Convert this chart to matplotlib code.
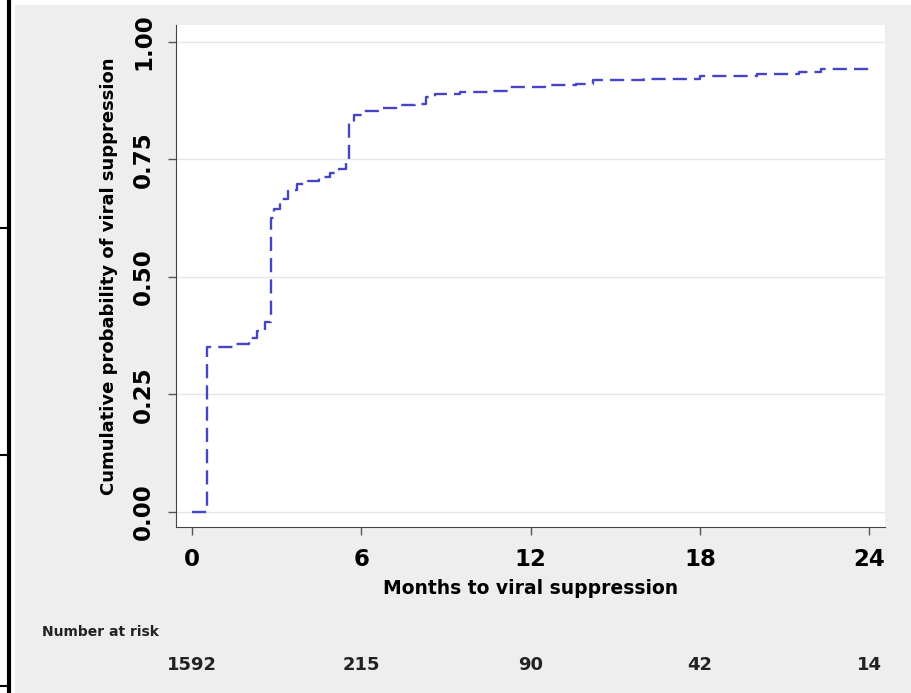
import matplotlib
matplotlib.use("Agg")
import matplotlib.pyplot as plt
from matplotlib.patches import Rectangle
from matplotlib.lines import Line2D
import matplotlib.transforms as mtransforms

plt.rcParams['font.family'] = ['DejaVu Sans']
plt.rcParams['font.weight'] = 'bold'

# Kaplan-Meier style curve (step points)
months = [0, 0.53, 1.0, 1.5, 2.0, 2.3, 2.6, 2.78, 2.9, 3.1, 3.4, 3.7, 4.1, 4.5, 4.9, 5.2, 5.45,
          5.55, 5.75, 6.1, 6.6, 7.3, 7.9, 8.3, 8.6, 9.5, 10.5, 11.2, 12.5, 13.6, 14.2, 16.0,
          18.0, 20.0, 21.5, 22.3, 24]
prob = [0, 0.35, 0.352, 0.358, 0.37, 0.385, 0.405, 0.625, 0.645, 0.665, 0.685, 0.698, 0.705, 0.713,
        0.722, 0.73, 0.745, 0.83, 0.845, 0.852, 0.86, 0.865, 0.868, 0.882, 0.89, 0.893, 0.895,
        0.905, 0.908, 0.91, 0.918, 0.922, 0.928, 0.932, 0.937, 0.942, 0.945]

xticks = [0, 6, 12, 18, 24]
yticks = [0.0, 0.25, 0.50, 0.75, 1.00]
ytick_labels = ['0.00', '0.25', '0.50', '0.75', '1.00']

risk_times = [0, 6, 12, 18, 24]
risk_n = [1592, 215, 90, 42, 14]

fig = plt.figure(figsize=(9.12, 6.93), dpi=100, facecolor='white')

# grey page with the black border bits on the left
fig.add_artist(Rectangle((15 / 912, 0), 1, 1 - 5 / 693, transform=fig.transFigure,
                         facecolor='#eeeeee', edgecolor='none', zorder=-10))
fig.add_artist(Line2D([9.5 / 912, 9.5 / 912], [0, 1], transform=fig.transFigure, color='black', lw=3))
for yy in [228, 455, 686]:
    fig.add_artist(Line2D([0, 9.5 / 912], [1 - yy / 693, 1 - yy / 693], transform=fig.transFigure,
                          color='black', lw=1.5))

ax = fig.add_axes([176 / 912, 1 - 527 / 693, (885 - 176) / 912, (527 - 25) / 693])
ax.set_facecolor('white')

ax.step(months, prob, where='post', color='#4646c4', lw=1.7, dashes=(6, 3))

ax.set_xlim(-0.57, 24.55)
ax.set_ylim(-0.032, 1.036)
ax.set_xticks(xticks)
ax.set_yticks(yticks)
ax.set_yticklabels(ytick_labels, rotation=90, va='center')
ax.tick_params(axis='both', labelsize=16.5, length=6, width=1, color='#555555', direction='out')
ax.tick_params(axis='y', pad=9)
ax.tick_params(axis='x', pad=9)
ax.grid(axis='y', color='#e6e6e6', lw=1)
ax.set_axisbelow(True)

for side in ['top', 'right']:
    ax.spines[side].set_visible(False)
ax.spines['left'].set_color('#444444')
ax.spines['bottom'].set_color('#444444')

ax.set_xlabel('Months to viral suppression', fontsize=13.5, fontweight='bold', labelpad=6)
ax.set_ylabel('Cumulative probability of viral suppression', fontsize=13, fontweight='bold', labelpad=10)

# number at risk table
fig.text(42 / 912, 1 - 632 / 693, 'Number at risk', fontsize=10, fontweight='bold', color='#222222', va='center')
trans = mtransforms.blended_transform_factory(ax.transData, fig.transFigure)
for t, n in zip(risk_times, risk_n):
    ax.text(t, 1 - 665 / 693, str(n), transform=trans, ha='center', va='center',
            fontsize=13, fontweight='bold', color='#222222', clip_on=False)

fig.savefig('out.png', dpi=100, facecolor=fig.get_facecolor())
